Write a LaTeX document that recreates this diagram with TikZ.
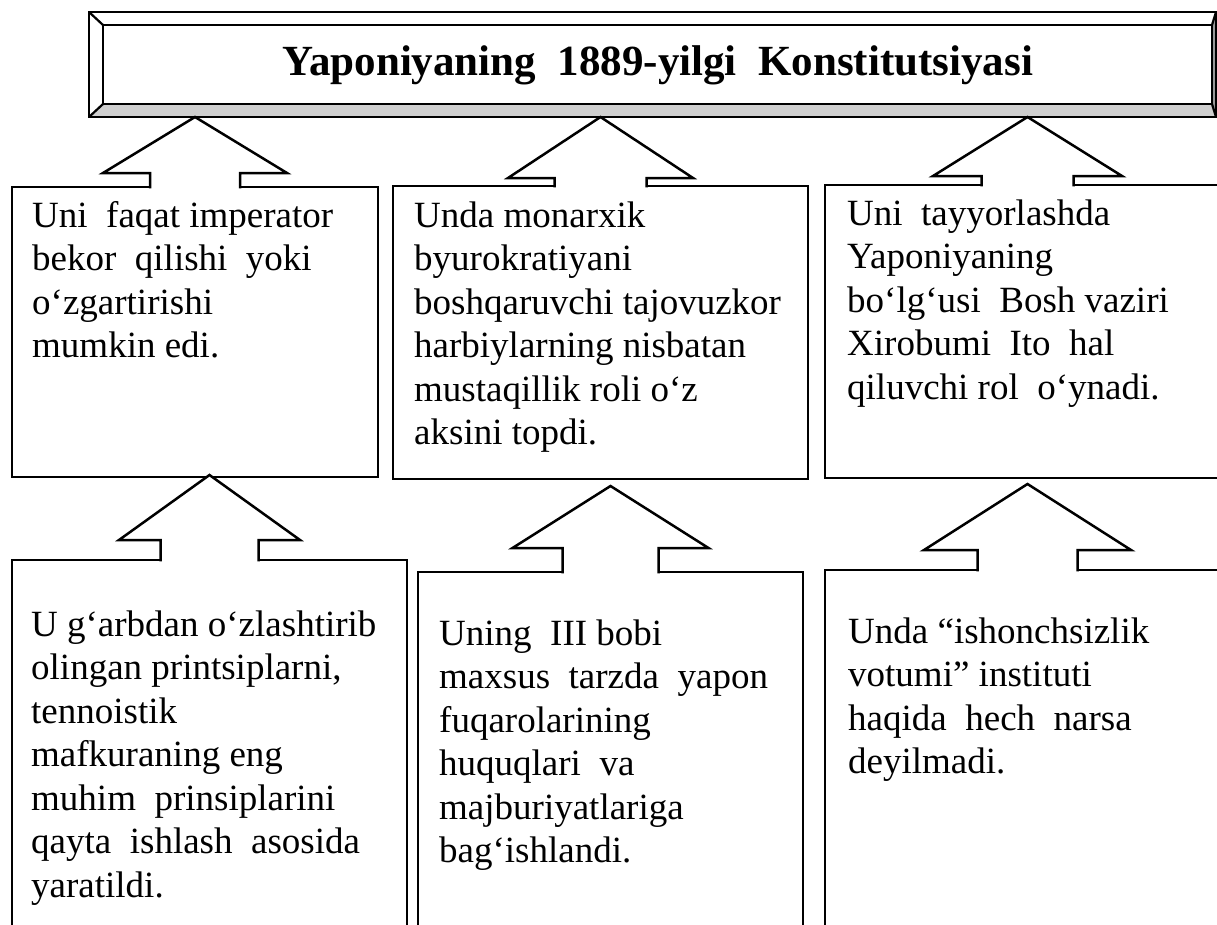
\documentclass[tikz,border=0pt]{standalone}
\usepackage{fontspec}
\setmainfont{Liberation Serif}
\usetikzlibrary{calc, backgrounds}

\newcommand{\boxlines}[1]{\begin{tabular}[t]{@{}l@{}}#1\end{tabular}}

\tikzset{
  box/.style = {draw, line width=2.7pt, rectangle, anchor=north west, inner sep=0pt, outer sep=0pt},
  boxtext/.style = {anchor=base west, inner sep=0pt, font=\fontsize{37}{43.5}\selectfont},
  arrline/.style = {line width=2.5pt},
}

\begin{document}
\begin{tikzpicture}[x=1pt, y=-1pt]

    \useasboundingbox (0,0) rectangle (1217,924);
    \clip (0,0) rectangle (1217,924);

    %block arrow: lower box, upper box, gap, head height, head half, shaft half
    \def\uparr#1#2#3#4#5#6{
      \path (#1.north) coordinate (sb);
      \path ($(#1.north |- #2.south)+(0,#3)$) coordinate (tp);
      \fill[white] ($(sb)+(-#6,2)$) -- ($(tp)+(-#6,#4)$) -- ($(tp)+(-#5,#4)$) -- (tp)
        -- ($(tp)+(#5,#4)$) -- ($(tp)+(#6,#4)$) -- ($(sb)+(#6,2)$) -- cycle;
      \draw[arrline] ($(sb)+(-#6,1.3)$) -- ($(tp)+(-#6,#4)$) -- ($(tp)+(-#5,#4)$) -- (tp)
        -- ($(tp)+(#5,#4)$) -- ($(tp)+(#6,#4)$) -- ($(sb)+(#6,1.3)$);
    }

    %title frame
    \node[box, minimum width=1127, minimum height=105] (frame) at (89,12) {};
    \node[box, line width=2.2pt, minimum width=1109, minimum height=79] (inner) at (103,25) {};
    \begin{scope}[on background layer]
      \fill[black!19] (frame.south west) -- (frame.south east) -- (inner.south east) -- (inner.south west) -- cycle;
      \fill[black!40] (frame.north east) -- (frame.south east) -- (inner.south east) -- (inner.north east) -- cycle;
    \end{scope}
    \draw[line width=2.2pt] (frame.north west) -- (inner.north west);
    \draw[line width=2.2pt] (frame.south west) -- (inner.south west);
    \draw[line width=2.2pt] (frame.north east) -- (inner.north east);
    \draw[line width=2.2pt] (frame.south east) -- (inner.south east);
    \node[anchor=base, inner sep=0pt, font=\fontsize{43}{50}\selectfont\bfseries] (title) at (658,75)
      {Yaponiyaning~~1889-yilgi~~Konstitutsiyasi};

    %upper boxes
    \node[box, minimum width=366, minimum height=290] (b1) at (12,187) {};
    \node[box, minimum width=415, minimum height=293] (b2) at (393,186) {};
    \node[box, minimum width=405, minimum height=293] (b3) at (825,185) {};

    %lower boxes
    \node[box, minimum width=395, minimum height=380] (b4) at (12,560) {};
    \node[box, minimum width=385, minimum height=368] (b5) at (418,572) {};
    \node[box, minimum width=405, minimum height=370] (b6) at (825,570) {};

    %arrows
    \uparr{b1}{frame}{0}{56}{92}{45}
    \uparr{b2}{frame}{0}{61}{92.5}{46}
    \uparr{b3}{frame}{0}{59}{94.5}{46}
    \uparr{b4}{b1}{-2}{65}{90.5}{49}
    \uparr{b5}{b2}{7}{62}{98}{48}
    \uparr{b6}{b3}{6}{66}{103.5}{50}

    %texts in boxes
    \node[boxtext] (t1) at ($(b1.north west)+(20,40)$)
      {\boxlines{Uni~~faqat imperator\\ bekor~~qilishi~~yoki\\ o‘zgartirishi\\ mumkin edi.}};
    \node[boxtext] (t2) at ($(b2.north west)+(21,41)$)
      {\boxlines{Unda monarxik\\ byurokratiyani\\ boshqaruvchi tajovuzkor\\ harbiylarning nisbatan\\ mustaqillik roli o‘z\\ aksini topdi.}};
    \node[boxtext] (t3) at ($(b3.north west)+(22,40)$)
      {\boxlines{Uni~~tayyorlashda\\ Yaponiyaning\\ bo‘lg‘usi~~Bosh vaziri\\ Xirobumi~~Ito~~hal\\ qiluvchi rol~~o‘ynadi.}};
    \node[boxtext] (t4) at ($(b4.north west)+(19,76)$)
      {\boxlines{U g‘arbdan o‘zlashtirib\\ olingan printsiplarni,\\ tennoistik\\ mafkuraning eng\\ muhim~~prinsiplarini\\ qayta~~ishlash~~asosida\\ yaratildi.}};
    \node[boxtext] (t5) at ($(b5.north west)+(21,73)$)
      {\boxlines{Uning~~III bobi\\ maxsus~~tarzda~~yapon\\ fuqarolarining\\ huquqlari~~va\\ majburiyatlariga\\ bag‘ishlandi.}};
    \node[boxtext] (t6) at ($(b6.north west)+(23,73)$)
      {\boxlines{Unda “ishonchsizlik\\ votumi” instituti\\ haqida~~hech~~narsa\\ deyilmadi.}};

\end{tikzpicture}
\end{document}
